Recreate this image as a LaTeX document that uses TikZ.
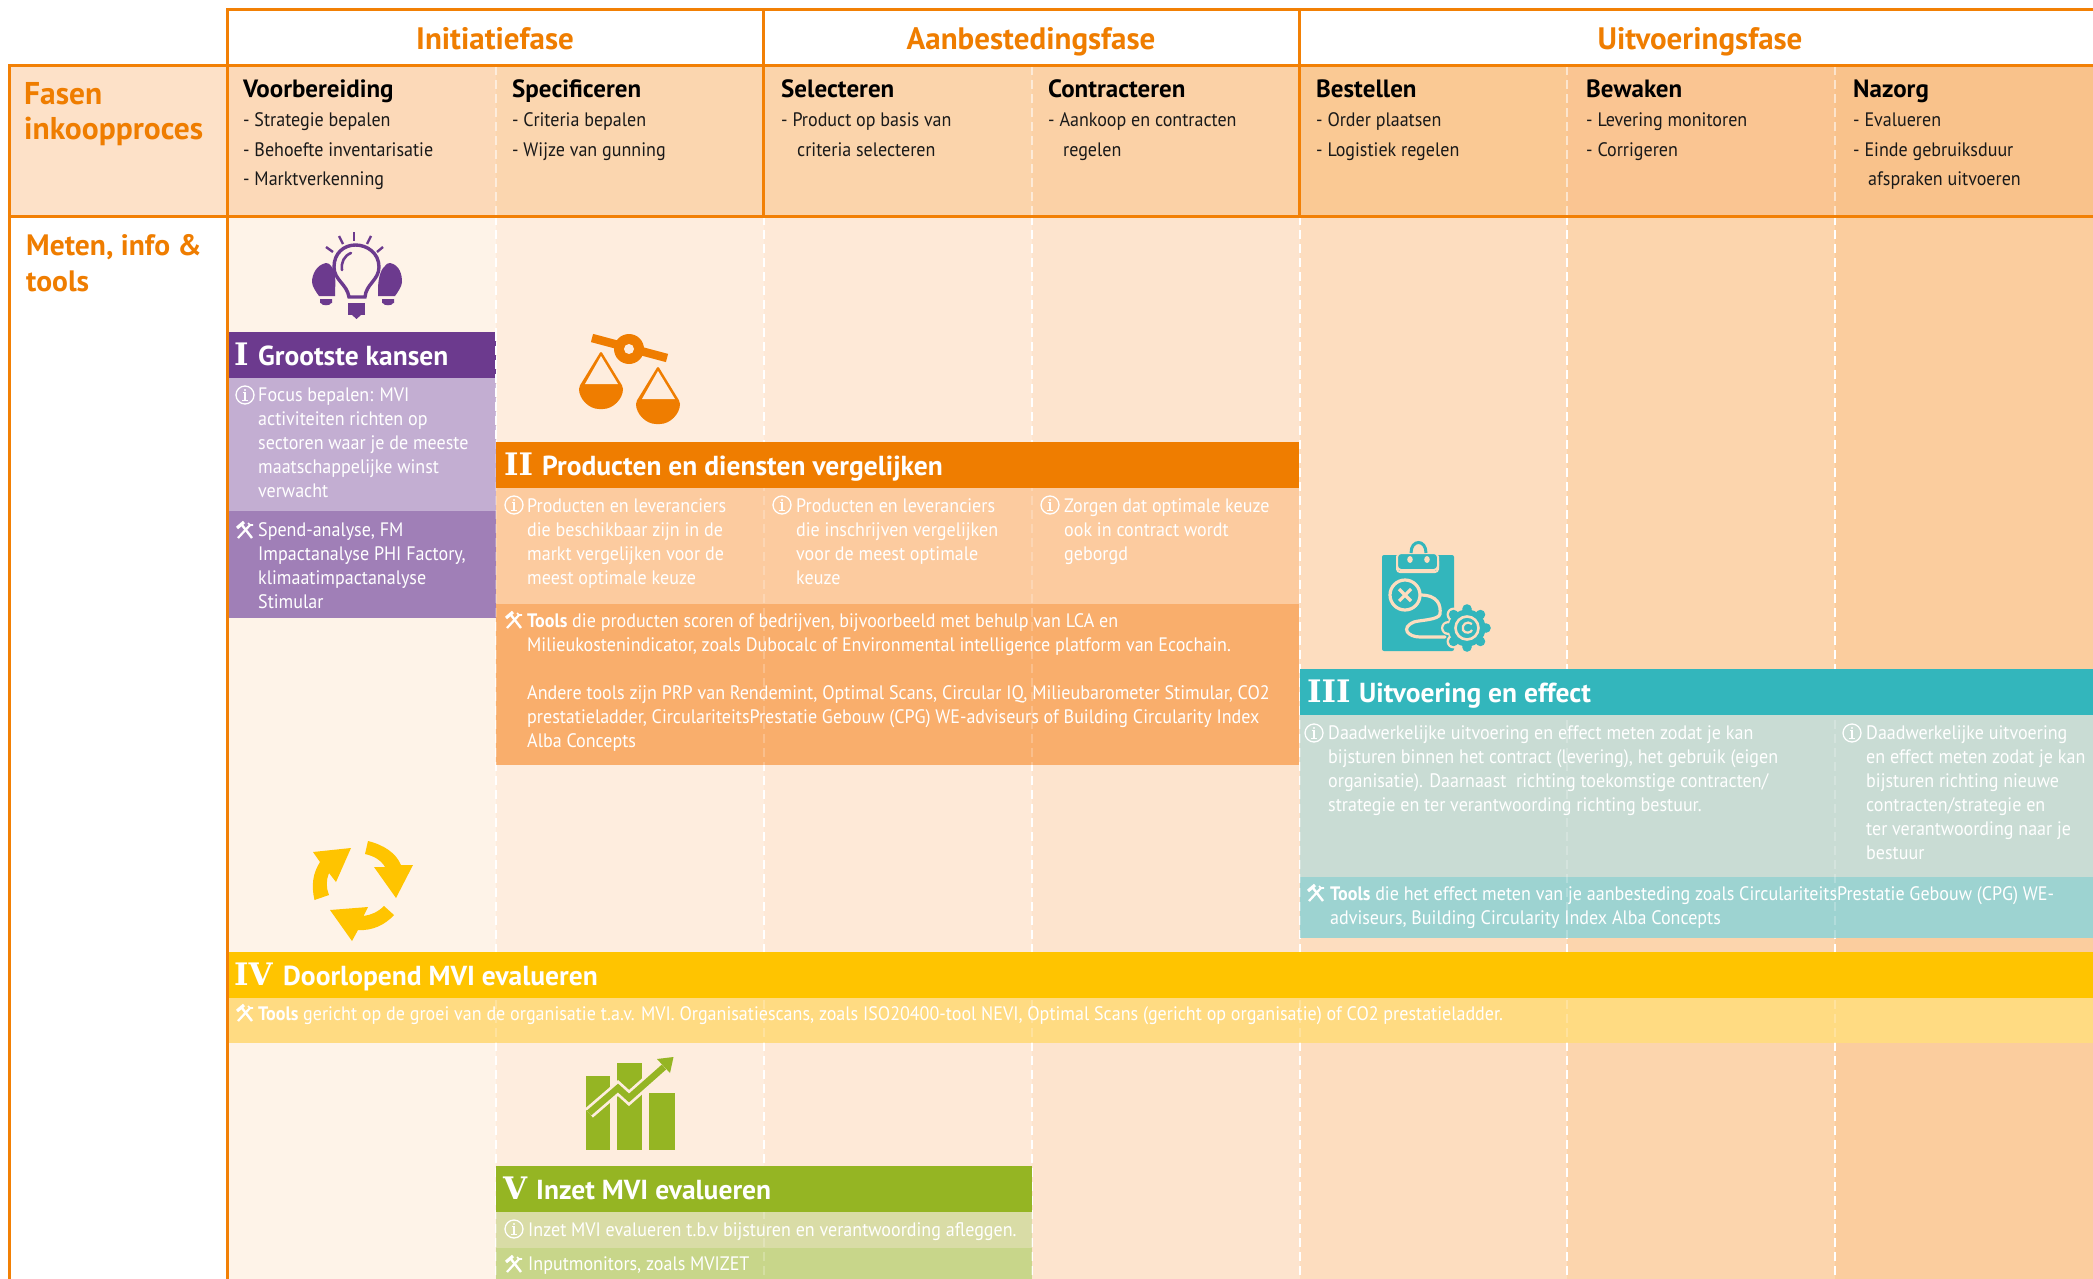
\documentclass[tikz,border=0pt]{standalone}
\usepackage{fontspec}
\setmainfont{PT Sans}
\newfontfamily\bodyf[FakeStretch=0.925]{PT Sans}
\newfontfamily\romanfont{DejaVu Serif}
\definecolor{line}{HTML}{F28005}
\definecolor{hd}{HTML}{EF7D00}
\definecolor{leftc}{HTML}{FDE1C8}
\definecolor{ha}{HTML}{FCD9B8}\definecolor{hb}{HTML}{FBD6AF}\definecolor{hc}{HTML}{FBD4AB}\definecolor{he}{HTML}{FBD1A6}
\definecolor{hf}{HTML}{FAC994}\definecolor{hg}{HTML}{FAC592}\definecolor{hh}{HTML}{F9C28B}
\definecolor{ca}{HTML}{FEF3E8}\definecolor{cb}{HTML}{FEEDDE}\definecolor{cc}{HTML}{FEE9D7}\definecolor{cd}{HTML}{FDE4CE}
\definecolor{ce}{HTML}{FDDDBF}\definecolor{cf}{HTML}{FCD5AD}\definecolor{cg}{HTML}{FBCD9E}
\definecolor{pu}{HTML}{6C3A8E}\definecolor{pul}{HTML}{C3AED2}\definecolor{pum}{HTML}{A07FB7}
\definecolor{orl}{HTML}{FCCB9F}\definecolor{orm}{HTML}{F9AE6C}
\definecolor{te}{HTML}{33B6BC}\definecolor{tel}{HTML}{C9DCD4}\definecolor{tem}{HTML}{9DD3D1}
\definecolor{ye}{HTML}{FFC400}\definecolor{yel}{HTML}{FFDB82}
\definecolor{gr}{HTML}{95B523}\definecolor{grl}{HTML}{D9DCA6}\definecolor{grm}{HTML}{C8D68A}
\tikzset{
 dashln/.style={white,line width=2.5pt,dash pattern=on 9pt off 5pt},
 faintln/.style={white,line width=2.5pt,dash pattern=on 9pt off 5pt,opacity=.22},
 frame/.style={line,line width=3pt},
 phase/.style={font=\fontsize{31}{34}\selectfont\bfseries,text=hd,inner sep=0pt,anchor=base},
 sidett/.style={text=hd,align=left,inner sep=0pt},
 steptt/.style={font=\fontsize{25}{30}\selectfont\bfseries,text=black,inner sep=0pt},
 sub/.style={font=\bodyf\fontsize{19.5}{29.4}\selectfont,text=black!90,align=left,inner sep=0pt},
 body/.style={font=\bodyf\fontsize{19.5}{24}\selectfont,text=white,align=left,inner sep=0pt},
 bartt/.style={font=\fontsize{27.5}{30}\selectfont\bfseries,text=white,inner sep=0pt,anchor=base west},
 numer/.style={font=\fontsize{31}{34}\selectfont\romanfont\bfseries,text=white,inner sep=0pt,anchor=base west},
 infoic/.pic={\draw[white,line width=1.3pt] (0,0) circle (9pt);
   \fill[white] (-.9,-2.6) rectangle (.9,6); \fill[white] (0,-5) circle (1.2pt); \fill[white] (-2.4,-2.8) rectangle (.9,-1.6); \fill[white] (-2.6,5) rectangle (2.6,6.2);},
 toolic/.pic={\draw[white,line width=2.4pt] (-3,-5) -- (7,8); \draw[white,line width=3.2pt] (-8,-2) -- (-1,-8);
   \draw[white,line width=2.2pt] (5,-5) -- (-7,8); \draw[white,line width=1.6pt] (3,-7) -- (5,-5) -- (8,-5);},
}
\newcommand{\blk}[5]{\node[#4,anchor=north west] (#1) at (#2,{#3-26}) {\rule{0pt}{26pt}#5};}
\begin{document}
\begin{tikzpicture}[x=1pt,y=-1pt]
\useasboundingbox (0,0) rectangle (2093,1279);
\fill[white] (0,0) rectangle (2093,1279);
% backgrounds
\fill[leftc] (9,66) rectangle (228,216);
\fill[ha] (227,66) rectangle (496,216);
\fill[hb] (496,66) rectangle (764,216);
\fill[hc] (764,66) rectangle (1032,216);
\fill[he] (1032,66) rectangle (1300,216);
\fill[hf] (1300,66) rectangle (1567,216);
\fill[hg] (1567,66) rectangle (1835,216);
\fill[hh] (1835,66) rectangle (2093,216);
\fill[ca] (227,216) rectangle (496,1279);
\fill[cb] (496,216) rectangle (764,1279);
\fill[cc] (764,216) rectangle (1032,1279);
\fill[cd] (1032,216) rectangle (1300,1279);
\fill[ce] (1300,216) rectangle (1567,1279);
\fill[cf] (1567,216) rectangle (1835,1279);
\fill[cg] (1835,216) rectangle (2093,1279);
% dashes
\foreach \xx in {496,764,1032,1300,1567,1835}{\draw[dashln] (\xx,216) -- (\xx,1279);}
\foreach \xx in {496,1032,1567,1835}{\draw[dashln,opacity=.55] (\xx,66) -- (\xx,216);}
% light boxes
\fill[pul] (227,378) rectangle (496,511);
\fill[pum] (227,511) rectangle (496,618);
\fill[orl] (496,488) rectangle (1299,604);
\fill[orm] (496,604) rectangle (1299,765);
\fill[tel] (1300,715) rectangle (2093,877);
\fill[tem] (1300,877) rectangle (2093,938);
\fill[yel] (227,998) rectangle (2093,1043);
\fill[grl] (496,1212) rectangle (1032,1248);
\fill[grm] (496,1248) rectangle (1032,1279);
\foreach \xx in {496,764,1032,1300,1567,1835}{\draw[faintln] (\xx,216) -- (\xx,1279);}
% bars
\fill[pu] (227,332) rectangle (496,378);
\fill[hd] (496,442) rectangle (1299,488);
\fill[te] (1300,669) rectangle (2093,715);
\fill[ye] (227,952) rectangle (2093,998);
\fill[gr] (496,1166) rectangle (1032,1212);
\draw[dashln] (496,332) -- (496,442);
% frame
\draw[frame] (227,10) -- (2093,10);
\draw[frame] (9,66) -- (2093,66);
\draw[frame] (9,216) -- (2093,216);
\draw[frame] (9,64.5) -- (9,1279);
\draw[frame] (227,8.5) -- (227,1279);
\draw[frame] (763.5,10) -- (763.5,216);
\draw[frame] (1299.5,10) -- (1299.5,216);
% phases
\node[phase] (ph1) at (495,50) {Initiatiefase};
\node[phase] (ph2) at (1031,50) {Aanbestedingsfase};
\node[phase] (ph3) at (1700,50) {Uitvoeringsfase};
\blk{side1}{24}{104.5}{sidett,font=\fontsize{31.5}{35}\selectfont\bfseries}{Fasen\\inkoopproces}
\blk{side2}{26}{255}{sidett,font=\fontsize{29.5}{36}\selectfont\bfseries}{Meten, info \&\\tools}
% steps
\blk{st1}{243}{97.5}{steptt}{Voorbereiding}
\blk{st2}{512}{97.5}{steptt}{Specificeren}
\blk{st3}{781}{97.5}{steptt}{Selecteren}
\blk{st4}{1048}{97.5}{steptt}{Contracteren}
\blk{st5}{1316}{97.5}{steptt}{Bestellen}
\blk{st6}{1586}{97.5}{steptt}{Bewaken}
\blk{st7}{1853}{97.5}{steptt}{Nazorg}
\blk{sb1}{243}{126.5}{sub}{- Strategie bepalen\\- Behoefte inventarisatie\\- Marktverkenning}
\blk{sb2}{512}{126.5}{sub}{- Criteria bepalen\\- Wijze van gunning}
\blk{sb3}{781}{126.5}{sub}{- Product op basis van\\\hspace*{16pt}criteria selecteren}
\blk{sb4}{1048}{126.5}{sub}{- Aankoop en contracten\\\hspace*{15pt}regelen}
\blk{sb5}{1316}{126.5}{sub}{- Order plaatsen\\- Logistiek regelen}
\blk{sb6}{1586}{126.5}{sub}{- Levering monitoren\\- Corrigeren}
\blk{sb7}{1853}{126.5}{sub}{- Evalueren\\- Einde gebruiksduur\\\hspace*{15pt}afspraken uitvoeren}
% I
\node[numer] (n1) at (234,365) {I};
\node[bartt] (t1) at (258,365) {Grootste kansen};
\pic at (245,395) {infoic};
\blk{i1}{258}{401}{body}{Focus bepalen: MVI\\activiteiten richten op\\sectoren waar je de meeste\\maatschappelijke winst\\verwacht}
\pic at (245,530) {toolic};
\blk{i1b}{258}{536}{body}{Spend-analyse, FM\\Impactanalyse PHI Factory,\\klimaatimpactanalyse\\Stimular}
% II
\node[numer] (n2) at (504,475) {II};
\node[bartt] (t2) at (542,475) {Producten en diensten vergelijken};
\pic at (514,505) {infoic};
\blk{i2a}{527}{512}{body}{Producten en leveranciers\\die beschikbaar zijn in de\\markt vergelijken voor de\\meest optimale keuze}
\pic at (782,505) {infoic};
\blk{i2b}{796}{512}{body}{Producten en leveranciers\\die inschrijven vergelijken\\voor de meest optimale\\keuze}
\pic at (1050,505) {infoic};
\blk{i2c}{1064}{512}{body}{Zorgen dat optimale keuze\\ook in contract wordt\\geborgd}
\pic at (514,620) {toolic};
\blk{i2d}{527}{627}{body}{\textbf{Tools} die producten scoren of bedrijven, bijvoorbeeld met behulp van LCA en\\Milieukostenindicator, zoals Dubocalc of Environmental intelligence platform van Ecochain.\\[24pt]Andere tools zijn PRP van Rendemint, Optimal Scans, Circular IQ, Milieubarometer Stimular, CO2\\prestatieladder, CirculariteitsPrestatie Gebouw (CPG) WE-adviseurs of Building Circularity Index\\Alba Concepts}
% III
\node[numer] (n3) at (1307,702) {III};
\node[bartt] (t3) at (1359,702) {Uitvoering en effect};
\pic at (1314,733) {infoic};
\blk{i3a}{1328}{739}{body}{Daadwerkelijke uitvoering en effect meten zodat je kan\\bijsturen binnen het contract (levering), het gebruik (eigen\\organisatie). Daarnaast\ \ richting toekomstige contracten/\\strategie en ter verantwoording richting bestuur.}
\pic at (1852,733) {infoic};
\blk{i3b}{1866}{739}{body}{Daadwerkelijke uitvoering\\en effect meten zodat je kan\\bijsturen richting nieuwe\\contracten/strategie en\\ter verantwoording naar je\\bestuur}
\pic at (1316,893) {toolic};
\blk{i3c}{1330}{900}{body}{\textbf{Tools} die het effect meten van je aanbesteding zoals CirculariteitsPrestatie Gebouw (CPG) WE-\\adviseurs, Building Circularity Index Alba Concepts}
% IV
\node[numer] (n4) at (234,985) {IV};
\node[bartt] (t4) at (283,985) {Doorlopend MVI evalueren};
\pic at (245,1013) {toolic};
\blk{i4}{258}{1020}{body}{\textbf{Tools} gericht op de groei van de organisatie t.a.v. MVI. Organisatiescans, zoals ISO20400-tool NEVI, Optimal Scans (gericht op organisatie) of CO2 prestatieladder.}
% V
\node[numer] (n5) at (503,1199) {V};
\node[bartt] (t5) at (536,1199) {Inzet MVI evalueren};
\pic at (514,1229) {infoic};
\blk{i5a}{528}{1236}{body}{Inzet MVI evalueren t.b.v bijsturen en verantwoording afleggen.}
\pic at (514,1264) {toolic};
\blk{i5b}{528}{1270}{body}{Inputmonitors, zoals MVIZET}
% bulb icon
\draw[pu,line width=3.4pt] (349,297) .. controls (347,284) and (334,280) .. (334,267) .. controls (334,253) and (344,245) .. (355.5,245) .. controls (367,245) and (379,253) .. (379,267) .. controls (379,280) and (366,284) .. (365,297) -- cycle;
\draw[pu,line width=2.6pt,line cap=round] (342,270) .. controls (341,262) and (344,256) .. (351,253);
\fill[pu] (348,303) rectangle (365,315);
\fill[pu] (352,315) -- (361,315) -- (356.5,319) -- cycle;
\foreach \ax/\ay/\bx/\by in {354/232/354/241,339/236/343/244,326/247/333/252,371/236/367/244,383/247/377/252}{\draw[pu,line width=2.4pt] (\ax,\ay) -- (\bx,\by);}
\fill[pu] (326,263) .. controls (316,265) and (312,275) .. (312,282) .. controls (312,286) and (316,292) .. (319,296) -- (335,296) -- (335,290) .. controls (336,280) and (335,270) .. (331,266) .. controls (330,264) and (328,263) .. (326,263) -- cycle;
\fill[pu] (320,299) rectangle (332,303) (321,303) .. controls (321,306) and (331,306) .. (331,303) -- cycle;
\fill[pu] (390,263) .. controls (400,265) and (402,275) .. (402,282) .. controls (402,286) and (398,292) .. (395,296) -- (378,296) -- (378,290) .. controls (378,280) and (380,270) .. (385,266) .. controls (386,264) and (388,263) .. (390,263) -- cycle;
\fill[pu] (382,299) rectangle (394,303) (383,303) .. controls (383,306) and (393,306) .. (393,303) -- cycle;
% scales icon
\draw[hd,line width=8.5pt] (592,338) -- (667,358);
\fill[hd] (629,349) circle (15pt);
\fill[cb] (629,349) circle (5pt);
\fill[hd,rounded corners=2pt] (601,351) -- (579,387) .. controls (579,399) and (589,409) .. (601,409) .. controls (613,409) and (623,399) .. (623,387) -- cycle;
\fill[cb] (601,356) -- (585,384) -- (618,384) -- cycle;
\fill[hd,rounded corners=2pt] (658,366) -- (636,402) .. controls (636,414) and (646,424) .. (658,424) .. controls (670,424) and (680,414) .. (680,402) -- cycle;
\fill[cb] (658,371) -- (642,399) -- (675,399) -- cycle;
% clipboard icon
\fill[te,rounded corners=2pt] (1382,555) rectangle (1454,651);
\fill[te,draw=ce,line width=2pt,rounded corners=3pt] (1397,558) rectangle (1438,572);
\fill[te,draw=ce,line width=2pt,rounded corners=4pt] (1397,570) -- (1397,553) -- (1438,553) -- (1438,570) -- cycle;
\draw[te,line width=3pt] (1411,553) .. controls (1411,539) and (1426,539) .. (1426,553);
\fill[ce] (1410,559.5) ellipse (2.8pt and 3.5pt) (1427,559.5) ellipse (2.8pt and 3.5pt);
\draw[ce,line width=3.2pt] (1405,595) circle (15pt);
\draw[ce,line width=3.2pt] (1399,589) -- (1411,601) (1411,589) -- (1399,601);
\draw[ce,line width=3.2pt,line cap=round] (1420,595) .. controls (1438,595) and (1441,605) .. (1440,614) .. controls (1439,620) and (1420,620) .. (1414,622) .. controls (1400,628) and (1408,637) .. (1420,637) -- (1445,637);
\foreach \aa in {0,45,...,315}{\fill[ce] ([shift={(\aa:19pt)}]1467,628) circle (7pt);}
\fill[ce] (1467,628) circle (20pt);
\foreach \aa in {0,45,...,315}{\fill[te] ([shift={(\aa:19pt)}]1467,628) circle (4.8pt);}
\fill[te] (1467,628) circle (18.5pt);
\draw[ce,line width=2.6pt] (1467,628) circle (11.5pt);
\draw[ce,line width=2.2pt] (1472,624) .. controls (1467,620) and (1461,625) .. (1463,630) .. controls (1465,634) and (1471,633) .. (1472,630);
% recycle icon
\fill[ye] (368,841) .. controls (384,845) and (396,853) .. (401,865) -- (413,865) -- (396,898) -- (374,867) -- (385,867) .. controls (381,860) and (374,856) .. (365,854) -- cycle;
\fill[ye] (314.5,900) .. controls (311,885) and (313,873) .. (320,862) -- (313,852) -- (351,848) -- (336,882) -- (329,873) .. controls (326,880) and (326,888) .. (329,895) -- cycle;
\fill[ye] (384,906) -- (394,915) .. controls (385,925) and (372,931) .. (358,930) -- (352,941) -- (330,910) -- (368,907) -- (363.5,916) .. controls (371,915) and (378,912) .. (384,906) -- cycle;
% chart icon
\fill[gr] (585.5,1076) rectangle (610,1150);
\fill[gr] (617,1063) rectangle (642,1150);
\fill[gr] (649,1093) rectangle (675,1150);
\draw[cb,line width=12pt,line join=miter] (589,1113) -- (618,1088) -- (629,1098) -- (664,1067);
\draw[gr,line width=6.5pt,line join=miter] (589,1113) -- (618,1088) -- (629,1098) -- (664,1067);
\fill[gr] (657,1059) -- (673.5,1057) -- (670,1073) -- cycle;
\end{tikzpicture}
\end{document}
